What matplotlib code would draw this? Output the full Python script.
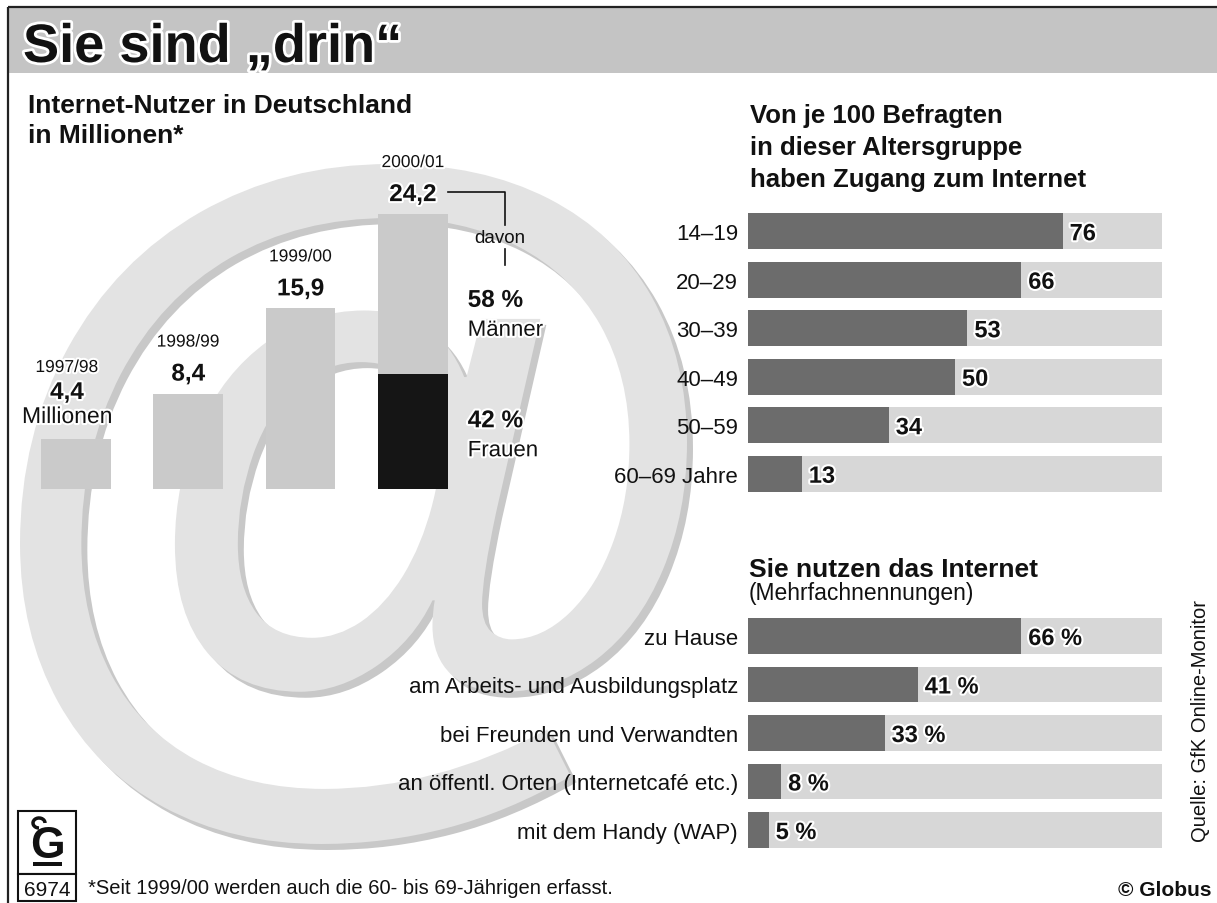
import matplotlib
matplotlib.use("Agg")
import matplotlib.pyplot as plt
import matplotlib.patheffects as pe
import numpy as np
from matplotlib.patches import Rectangle, PathPatch, Arc
from matplotlib.textpath import TextPath
from matplotlib.font_manager import FontProperties
from matplotlib.transforms import Affine2D

plt.rcParams['font.family'] = ['Liberation Sans', 'DejaVu Sans']

# data
years = ['1997/98', '1998/99', '1999/00', '2000/01']
users = [4.4, 8.4, 15.9, 24.2]          # Mio. Internet-Nutzer
share_men = 58
share_women = 42

age_groups = ['14–19', '20–29', '30–39', '40–49', '50–59', '60–69 Jahre']
age_access = [76, 66, 53, 50, 34, 13]

places = ['zu Hause', 'am Arbeits- und Ausbildungsplatz', 'bei Freunden und Verwandten',
          'an öffentl. Orten (Internetcafé etc.)', 'mit dem Handy (WAP)']
place_share = [66, 41, 33, 8, 5]

# colours
TXT = '#111111'
BAND = '#c4c4c4'
BAR_LIGHT = '#cacaca'
BAR_BLACK = '#151515'
ROW_DARK = '#6c6c6c'
ROW_BG = '#d7d7d7'
AT_FILL = '#e3e3e3'
AT_SHADE = '#c8c8c8'

W, H = 1217, 904
fig = plt.figure(figsize=(W / 100, H / 100), dpi=100)
fig.patch.set_facecolor('white')


def px_axes(x0, y0, x1, y1):
    # axes placed by pixel box (y from top)
    return fig.add_axes([x0 / W, 1 - y1 / H, (x1 - x0) / W, (y1 - y0) / H])


halo = [pe.withStroke(linewidth=3, foreground='white')]

# background / decoration layer in pixel coords
bg = px_axes(0, 0, W, H)
bg.set_xlim(0, W)
bg.set_ylim(H, 0)
bg.axis('off')

# big @ behind the left chart
at = TextPath((0, 0), '@', size=100, prop=FontProperties(family='Liberation Sans', weight='bold'))
ext = at.get_extents()
sx = (687 - 20) / ext.width
sy = (845 - 165) / ext.height
tr = Affine2D().translate(-ext.x0, -ext.y1).scale(sx, -sy).translate(20, 165)
bg.add_patch(PathPatch((tr + Affine2D().translate(6, 6)).transform_path(at),
                       fc=AT_SHADE, ec='none', zorder=1))
bg.add_patch(PathPatch(tr.transform_path(at), fc=AT_FILL, ec='none', zorder=2))

# frame and title band
bg.add_patch(Rectangle((8, 8), W - 8, 66, fc=BAND, ec='none', zorder=3))
bg.add_patch(Rectangle((8, 8), W, H, fill=False, ec='#222222', lw=1.6, zorder=4))
bg.text(23, 63, 'Sie sind „drin“', fontsize=39, weight='bold', color=TXT,
        va='baseline', path_effects=[pe.withStroke(linewidth=4, foreground='white')], zorder=5)

bg.text(28, 113, 'Internet-Nutzer in Deutschland', fontsize=19, weight='bold', color=TXT, va='baseline')
bg.text(28, 143, 'in Millionen*', fontsize=19, weight='bold', color=TXT, va='baseline')

bg.text(750, 123, 'Von je 100 Befragten', fontsize=18.5, weight='bold', color=TXT, va='baseline')
bg.text(750, 155, 'in dieser Altersgruppe', fontsize=18.5, weight='bold', color=TXT, va='baseline')
bg.text(750, 187, 'haben Zugang zum Internet', fontsize=18.5, weight='bold', color=TXT, va='baseline')

bg.text(749, 577, 'Sie nutzen das Internet', fontsize=19, weight='bold', color=TXT, va='baseline')
bg.text(749, 600, '(Mehrfachnennungen)', fontsize=16.5, color=TXT, va='baseline')

bg.text(1201, 721, 'Quelle: GfK Online-Monitor', fontsize=14.5, rotation=90,
        ha='center', va='center', color=TXT)
bg.text(88, 894, '*Seit 1999/00 werden auch die 60- bis 69-Jährigen erfasst.',
        fontsize=14.5, color=TXT, va='baseline')
bg.text(1211, 896, '© Globus', fontsize=15, weight='bold', color=TXT, ha='right', va='baseline')

# Globus logo
bg.add_patch(Rectangle((18, 812), 58, 63, fc='white', ec=TXT, lw=1.5, zorder=5))
bg.add_patch(Rectangle((18, 875), 58, 27, fc='white', ec=TXT, lw=1.5, zorder=5))
bg.text(47, 858, 'G', fontsize=32, weight='bold', ha='center', va='baseline', color=TXT, zorder=6)
bg.add_patch(Arc((39, 824), 12, 10, theta1=90, theta2=360, color=TXT, lw=2.5, zorder=6))
bg.add_patch(Rectangle((33, 863), 29, 4, fc=TXT, ec='none', zorder=6))
bg.text(47, 896, '6974', fontsize=15, ha='center', va='baseline', color=TXT, zorder=6)

# "davon" bracket
bg.plot([448, 505, 505], [193, 193, 226], color=TXT, lw=1.2, zorder=5)
bg.plot([505, 505], [250, 266], color=TXT, lw=1.2, zorder=5)
bg.text(500, 243, 'davon', fontsize=13.5, ha='center', va='baseline', color=TXT, zorder=5)

# ---- left: users in millions
ax = px_axes(20, 150, 480, 490)
x = np.arange(len(years))
ax.set_xlim(-0.4987, 3.5975)
ax.set_ylim(0, 340 / 11.36)
ax.axis('off')
women = users[-1] * share_women / 100
men = users[-1] * share_men / 100
ax.bar(x[:-1], users[:-1], width=0.62, color=BAR_LIGHT, zorder=3)
ax.bar(x[-1], women, width=0.62, color=BAR_BLACK, zorder=3)
ax.bar(x[-1], men, bottom=women, width=0.62, color=BAR_LIGHT, zorder=3)

for i, (yr, v) in enumerate(zip(years, users)):
    val = ('%.1f' % v).replace('.', ',')
    if i == 0:
        offs = (-9, 67, 40)
        ax.annotate('Millionen', (x[i], v), xytext=(-9, 16), textcoords='offset pixels',
                    ha='center', va='baseline', fontsize=16.5, color=TXT, path_effects=halo)
    else:
        offs = (0, 47, 13)
    ax.annotate(yr, (x[i], v), xytext=(offs[0], offs[1]), textcoords='offset pixels',
                ha='center', va='baseline', fontsize=12.5, color=TXT, path_effects=halo)
    ax.annotate(val, (x[i], v), xytext=(offs[0], offs[2]), textcoords='offset pixels',
                ha='center', va='baseline', fontsize=17.5, weight='bold', color=TXT, path_effects=halo)

right_edge = x[-1] + 0.31
ax.annotate('%d %%' % share_men, (right_edge, women + men / 2), xytext=(20, -13),
            textcoords='offset pixels', ha='left', va='baseline', fontsize=17.5, weight='bold',
            color=TXT, path_effects=halo)
ax.annotate('Männer', (right_edge, women + men / 2), xytext=(20, -42),
            textcoords='offset pixels', ha='left', va='baseline', fontsize=16,
            color=TXT, path_effects=halo)
ax.annotate('%d %%' % share_women, (right_edge, women / 2), xytext=(20, 4),
            textcoords='offset pixels', ha='left', va='baseline', fontsize=17.5, weight='bold',
            color=TXT, path_effects=halo)
ax.annotate('Frauen', (right_edge, women / 2), xytext=(20, -25),
            textcoords='offset pixels', ha='left', va='baseline', fontsize=16,
            color=TXT, path_effects=halo)


def row_chart(box, labels, values, suffix):
    a = px_axes(*box)
    n = len(values)
    y = np.arange(n)
    a.barh(y, [100] * n, height=0.742, color=ROW_BG, zorder=2)
    a.barh(y, values, height=0.742, color=ROW_DARK, zorder=3)
    a.set_xlim(0, 100)
    a.set_ylim(n - 0.5, -0.5)
    a.axis('off')
    for yi, lab, v in zip(y, labels, values):
        a.annotate(lab, (0, yi), xytext=(-10, -8), textcoords='offset pixels',
                   ha='right', va='baseline', fontsize=16, color=TXT)
        a.annotate('%d%s' % (v, suffix), (v, yi), xytext=(7, -9), textcoords='offset pixels',
                   ha='left', va='baseline', fontsize=17, weight='bold', color=TXT,
                   path_effects=halo, zorder=5)
    return a


row_chart((748, 208, 1162, 499), age_groups, age_access, '')
row_chart((748, 612.75, 1162, 855.25), places, place_share, ' %')

fig.savefig('out.png', dpi=100, facecolor='white')
